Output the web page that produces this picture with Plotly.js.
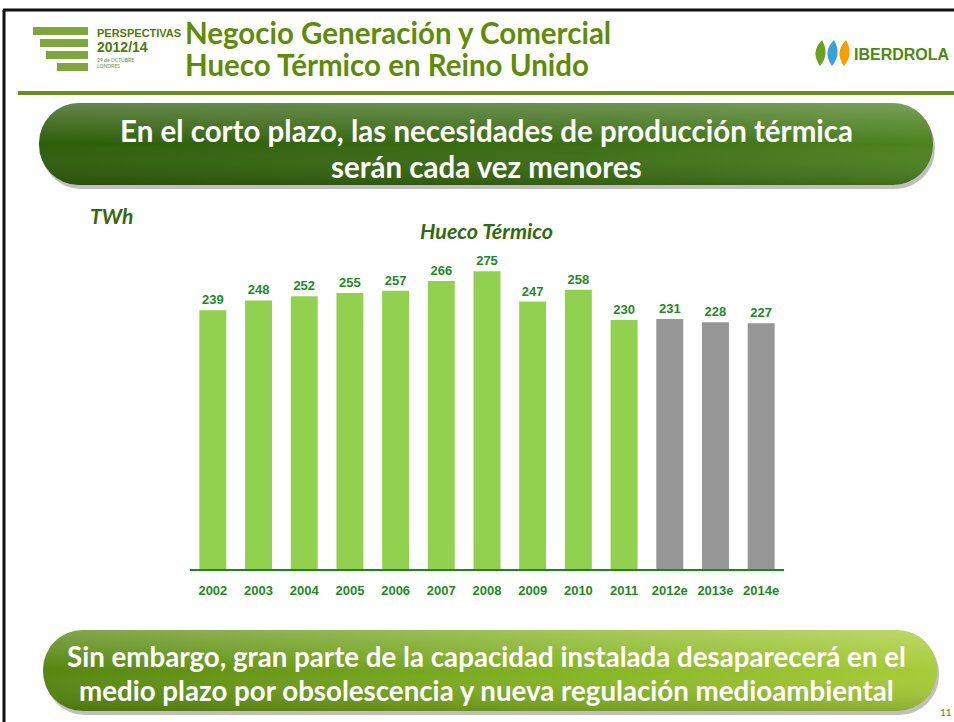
<!DOCTYPE html>
<html>
<head>
<meta charset="utf-8">
<script src="https://cdn.plot.ly/plotly-3.0.1.min.js"></script>
<style>
  html, body { margin: 0; padding: 0; background: #fff; }
  #chart { width: 954px; height: 722px; }
</style>
</head>
<body>
<div id="chart"></div>
<script>
// data
var years = ['2002', '2003', '2004', '2005', '2006', '2007', '2008', '2009', '2010', '2011', '2012e', '2013e', '2014e'];
var hueco = [239, 248, 252, 255, 257, 266, 275, 247, 258, 230, 231, 228, 227];

var barColors = years.map(function (y) { return y.slice(-1) === 'e' ? '#969696' : '#92D050'; });

// plot box in pixels
var L = 190, W = 594, T = 255, H = 314;
function PX(x) { return (x - L) / W; }
function PY(y) { return (T + H - y) / H; }

function pill(c1, c2, c3) {
  var svg = '<svg xmlns="http://www.w3.org/2000/svg" width="900" height="90" viewBox="0 0 900 90">' +
    '<defs><linearGradient id="g" x1="0" y1="0" x2="1" y2="0">' +
    '<stop offset="0" stop-color="' + c1 + '"/><stop offset="0.6" stop-color="' + c2 + '"/><stop offset="1" stop-color="' + c3 + '"/></linearGradient>' +
    '<linearGradient id="h" x1="0" y1="0" x2="0" y2="1">' +
    '<stop offset="0" stop-color="#ffffff" stop-opacity="0.25"/><stop offset="0.5" stop-color="#ffffff" stop-opacity="0"/>' +
    '<stop offset="1" stop-color="#000000" stop-opacity="0.15"/></linearGradient></defs>' +
    '<rect x="3" y="5" width="894" height="82" rx="40" ry="40" fill="#000" fill-opacity="0.25"/>' +
    '<rect x="1" y="1" width="894" height="82" rx="40" ry="40" fill="url(#g)"/>' +
    '<rect x="1" y="1" width="894" height="82" rx="40" ry="40" fill="url(#h)"/>' +
    '</svg>';
  return 'data:image/svg+xml;charset=utf-8,' + encodeURIComponent(svg);
}

var trace = {
  x: years,
  y: hueco,
  type: 'bar',
  marker: { color: barColors },
  text: hueco.map(String),
  textposition: 'outside',
  cliponaxis: false,
  textfont: { family: 'Liberation Sans, Arial, sans-serif', size: 13, color: '#1f8a1f', weight: 'bold' },
  hoverinfo: 'x+y'
};

var green = '#5e8c08';

var shapes = [
  // slide frame
  { type: 'line', xref: 'paper', yref: 'paper', x0: PX(3), x1: PX(954), y0: PY(10), y1: PY(10), line: { color: '#111', width: 3 } },
  { type: 'line', xref: 'paper', yref: 'paper', x0: PX(4), x1: PX(4), y0: PY(10), y1: PY(722), line: { color: '#111', width: 3 } },
  // header rule
  { type: 'line', xref: 'paper', yref: 'paper', x0: PX(18), x1: PX(954), y0: PY(93), y1: PY(93), line: { color: '#6b8e1a', width: 4 } }
];

// logo stripes
var stripes = [[33, 27, 35], [40, 39, 47], [46, 51, 59], [57, 63, 71]];
stripes.forEach(function (s) {
  shapes.push({ type: 'rect', xref: 'paper', yref: 'paper', x0: PX(s[0]), x1: PX(88), y0: PY(s[2]), y1: PY(s[1]),
    fillcolor: '#7ea63a', line: { width: 0 } });
});
// iberdrola leaves
var leaves = [[814, '#6aa321'], [826, '#3aa0d8'], [838, '#f5a000']];
leaves.forEach(function (lf) {
  var x = lf[0];
  shapes.push({ type: 'path', xref: 'paper', yref: 'paper',
    path: 'M ' + PX(x + 6) + ',' + PY(66) + ' Q ' + PX(x - 4) + ',' + PY(52) + ' ' + PX(x + 8) + ',' + PY(40) +
          ' Q ' + PX(x + 16) + ',' + PY(54) + ' ' + PX(x + 6) + ',' + PY(66) + ' Z',
    fillcolor: lf[1], line: { width: 0 } });
});

var images = [
  { source: pill('#2f5d0b', '#3b6e14', '#4d8220'), xref: 'paper', yref: 'paper', x: PX(38), y: PY(102),
    sizex: PX(938) - PX(38), sizey: PY(102) - PY(192), xanchor: 'left', yanchor: 'top', sizing: 'stretch', layer: 'above' },
  { source: pill('#55860f', '#86b524', '#a8cc38'), xref: 'paper', yref: 'paper', x: PX(42), y: PY(629),
    sizex: PX(942) - PX(42), sizey: PY(629) - PY(718), xanchor: 'left', yanchor: 'top', sizing: 'stretch', layer: 'above' }
];

function ann(x, y, text, size, color, opts) {
  var a = { xref: 'paper', yref: 'paper', x: PX(x), y: PY(y), text: text, showarrow: false,
    font: { family: 'Lato, sans-serif', size: size, color: color }, xanchor: 'center', yanchor: 'middle' };
  for (var k in opts) a[k] = opts[k];
  return a;
}
function bold(size, color, family) {
  return { family: family || 'Lato, sans-serif', size: size, color: color, weight: 'bold' };
}

var annotations = [
  ann(183, 32, 'Negocio Generación y Comercial', 29, green, { xanchor: 'left', font: bold(29.5, green) }),
  ann(183, 65, 'Hueco Térmico en Reino Unido', 29, green, { xanchor: 'left', font: bold(29.5, green) }),
  ann(95, 33, 'PERSPECTIVAS', 11, '#4f7a10', { xanchor: 'left', font: bold(11, '#4f7a10', 'Liberation Sans Narrow, Liberation Sans, sans-serif') }),
  ann(95, 47, '2012/14', 14, '#4f7a10', { xanchor: 'left', font: bold(14, '#4f7a10', 'Liberation Sans Narrow, Liberation Sans, sans-serif') }),
  ann(95, 60, '29 de OCTUBRE', 5, '#6b8e3a', { xanchor: 'left' }),
  ann(95, 66, 'LONDRES', 5, '#6b8e3a', { xanchor: 'left' }),
  ann(902, 55, 'IBERDROLA', 16, '#4f8a10', { font: bold(16, '#4f8a10', 'Liberation Sans, Arial, sans-serif') }),
  ann(486, 130, 'En el corto plazo, las necesidades de producción térmica', 29, '#fff', { font: bold(29.5, '#fff') }),
  ann(486, 166, 'serán cada vez menores', 29, '#fff', { font: bold(29.5, '#fff') }),
  ann(111, 216, '<i>TWh</i>', 21, '#336a0e', { font: bold(21, '#336a0e') }),
  ann(486, 231, '<i>Hueco Térmico</i>', 21, '#336a0e', { font: bold(21.5, '#336a0e') }),
  ann(486, 656, 'Sin embargo, gran parte de la capacidad instalada desaparecerá en el', 28, '#fff', { font: bold(27.7, '#fff') }),
  ann(486, 690, 'medio plazo por obsolescencia y nueva regulación medioambiental', 28, '#fff', { font: bold(27.7, '#fff') }),
  ann(946, 712, '11', 10, '#5e8c08', {})
];

var layout = {
  width: 954,
  height: 722,
  margin: { l: L, r: 954 - L - W, t: T, b: 722 - T - H },
  paper_bgcolor: '#ffffff',
  plot_bgcolor: 'rgba(0,0,0,0)',
  showlegend: false,
  bargap: 0.41,
  xaxis: {
    type: 'category',
    showline: true,
    linecolor: '#178a17',
    linewidth: 2,
    showgrid: false,
    ticks: '',
    ticklabelstandoff: 8,
    tickfont: { family: 'Liberation Sans, Arial, sans-serif', size: 13, color: '#1f8a1f', weight: 'bold' },
    fixedrange: true
  },
  yaxis: {
    range: [0, 290],
    visible: false,
    fixedrange: true
  },
  shapes: shapes,
  images: images,
  annotations: annotations
};

Plotly.newPlot('chart', [trace], layout, { displayModeBar: false, staticPlot: true });
</script>
</body>
</html>
